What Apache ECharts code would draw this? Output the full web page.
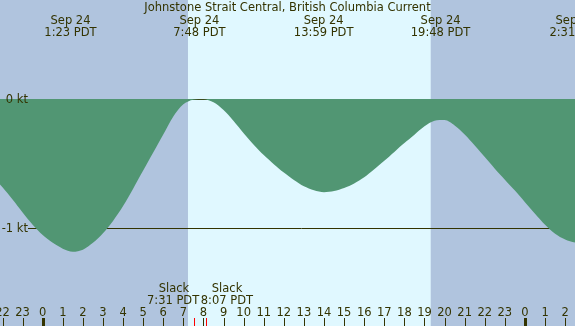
<!DOCTYPE html>
<html><head><meta charset="utf-8">
<script src="https://cdn.jsdelivr.net/npm/echarts@6/dist/echarts.min.js"></script>
<style>html,body{margin:0;padding:0;background:#b0c4de}#c{width:575px;height:326px}</style>
</head><body><div id="c"></div>
<script>
const titleText = 'Johnstone Strait Central, British Columbia Current';
const curveHours = [-2.5, -2.0, -1.5, -1.0, -0.5, 0.0, 0.5, 1.0, 1.5, 2.0, 2.5, 3.0, 3.5, 4.0, 4.5, 5.0, 5.5, 6.0, 6.5, 7.0, 7.5, 8.0, 8.5, 9.0, 9.5, 10.0, 10.5, 11.0, 11.5, 12.0, 12.5, 13.0, 13.5, 14.0, 14.5, 15.0, 15.5, 16.0, 16.5, 17.0, 17.5, 18.0, 18.5, 19.0, 19.5, 20.0, 20.5, 21.0, 21.5, 22.0, 22.5, 23.0, 23.5, 24.0, 24.5, 25.0, 25.5, 26.0, 26.5, 27.0];
const curveKnots = [-0.60, -0.685, -0.78, -0.88, -0.975, -1.055, -1.115, -1.160, -1.184, -1.168, -1.115, -1.04, -0.945, -0.83, -0.695, -0.555, -0.415, -0.275, -0.135, -0.04, -0.005, -0.002, -0.025, -0.085, -0.17, -0.265, -0.355, -0.435, -0.505, -0.57, -0.628, -0.677, -0.708, -0.722, -0.713, -0.69, -0.655, -0.607, -0.545, -0.478, -0.41, -0.342, -0.277, -0.212, -0.168, -0.163, -0.205, -0.275, -0.36, -0.45, -0.54, -0.625, -0.71, -0.80, -0.89, -0.975, -1.045, -1.09, -1.112, -1.10];
const extremeHours = [1.383, 7.8, 13.983, 19.8, 26.517];
const extremeDates = ['Sep 24', 'Sep 24', 'Sep 24', 'Sep 24', 'Sep 25'];
const extremeTimes = ['1:23 PDT', '7:48 PDT', '13:59 PDT', '19:48 PDT', '2:31 PDT'];
const slackHours = [7.517, 8.117];
const slackTimes = ['7:31 PDT', '8:07 PDT'];
const hourTicks = [-2, -1, 0, 1, 2, 3, 4, 5, 6, 7, 8, 9, 10, 11, 12, 13, 14, 15, 16, 17, 18, 19, 20, 21, 22, 23, 24, 25, 26];
const hourLabels = ['22', '23', '0', '1', '2', '3', '4', '5', '6', '7', '8', '9', '10', '11', '12', '13', '14', '15', '16', '17', '18', '19', '20', '21', '22', '23', '0', '1', '2'];
const levelKnots = [0, -1];
const levelLabels = ['0 kt', '-1 kt'];
const sunriseHour = 7.23, sunsetHour = 19.31;
const xMin = -2.125, xMax = 26.49;
const yMax = 99 / 129, yMin = -227 / 129;

const FONT = '11.5px "DejaVu Sans"';
const INK = '#333300';
const DY = 1.5;
const chart = echarts.init(document.getElementById('c'), null, {renderer: 'canvas'});
const W = 575, H = 326;

chart.setOption({
  animation: false,
  backgroundColor: '#b0c4de',
  title: {text: titleText, left: 'center', top: 2, padding: 0,
    textStyle: {fontFamily: 'DejaVu Sans', fontSize: 11.5, fontWeight: 'normal', color: INK}},
  grid: {left: 0, right: 0, top: 0, bottom: 0},
  xAxis: {type: 'value', min: xMin, max: xMax, show: false},
  yAxis: {type: 'value', min: yMin, max: yMax, show: false},
  series: [
    {
      type: 'custom', z: 0, silent: true,
      data: [[sunriseHour, sunsetHour]],
      renderItem: function (params, api) {
        const a = api.coord([api.value(0), 0]);
        const b = api.coord([api.value(1), 0]);
        return {type: 'rect', shape: {x: a[0], y: 0, width: b[0] - a[0], height: H},
          style: {fill: '#e0f8ff'}};
      }
    },
    {
      type: 'custom', z: 1, silent: true,
      data: levelKnots.map((v, i) => [v, i]),
      renderItem: function (params, api) {
        const p = api.coord([xMin, api.value(0)]);
        const y = Math.round(p[1]) + 0.5;
        return {type: 'line', shape: {x1: 28, y1: y, x2: W, y2: y},
          style: {stroke: INK, lineWidth: 1}};
      }
    },
    {
      type: 'line', z: 2, silent: true,
      data: curveHours.map((h, i) => [h, curveKnots[i]]),
      smooth: 0.3, symbol: 'none',
      lineStyle: {width: 0, opacity: 0},
      areaStyle: {color: '#519673', opacity: 1, origin: 'auto'}
    },
    {
      type: 'custom', z: 3, silent: true,
      data: levelKnots.map((v, i) => [v, i]),
      renderItem: function (params, api) {
        const p = api.coord([xMin, api.value(0)]);
        return {type: 'text', style: {text: levelLabels[api.value(1)], x: 28, y: p[1] + DY,
          align: 'right', verticalAlign: 'middle', font: FONT, fill: INK}};
      }
    },
    {
      type: 'custom', z: 3, silent: true,
      data: extremeHours.map((h, i) => [h, i]),
      renderItem: function (params, api) {
        const x = api.coord([api.value(0), 0])[0];
        const i = api.value(1);
        return {type: 'group', children: [
          {type: 'text', style: {text: extremeDates[i], x: x, y: 19.5 + DY, align: 'center', verticalAlign: 'middle', font: FONT, fill: INK}},
          {type: 'text', style: {text: extremeTimes[i], x: x, y: 31.5 + DY, align: 'center', verticalAlign: 'middle', font: FONT, fill: INK}}
        ]};
      }
    },
    {
      type: 'custom', z: 3, silent: true,
      data: hourTicks.map((h, i) => [h, i]),
      renderItem: function (params, api) {
        const x = api.coord([api.value(0), 0])[0];
        const i = api.value(1);
        const mid = hourLabels[i] === '0';
        const xx = Math.round(x) + 0.5;
        return {type: 'group', children: [
          {type: 'line', shape: {x1: xx, y1: 318, x2: xx, y2: H}, style: {stroke: INK, lineWidth: mid ? 3 : 1}},
          {type: 'text', style: {text: hourLabels[i], x: x, y: 311.5 + DY, align: 'center', verticalAlign: 'middle', font: FONT, fill: INK}}
        ]};
      }
    },
    {
      type: 'custom', z: 4, silent: true,
      data: slackHours.map((h, i) => [h, i]),
      renderItem: function (params, api) {
        const x = api.coord([api.value(0), 0])[0];
        const i = api.value(1);
        const xx = Math.round(x) + 0.5;
        const tx = i === 0 ? x + 5.5 : x - 5;
        const al = i === 0 ? 'right' : 'left';
        return {type: 'group', children: [
          {type: 'line', shape: {x1: xx, y1: 318, x2: xx, y2: H}, style: {stroke: '#ff0000', lineWidth: 1}},
          {type: 'text', style: {text: 'Slack', x: i === 0 ? tx - 10 : tx + 11, y: 287.5 + DY, align: al, verticalAlign: 'middle', font: FONT, fill: INK}},
          {type: 'text', style: {text: slackTimes[i], x: tx, y: 299.5 + DY, align: al, verticalAlign: 'middle', font: FONT, fill: INK}}
        ]};
      }
    }
  ]
});
</script></body></html>
